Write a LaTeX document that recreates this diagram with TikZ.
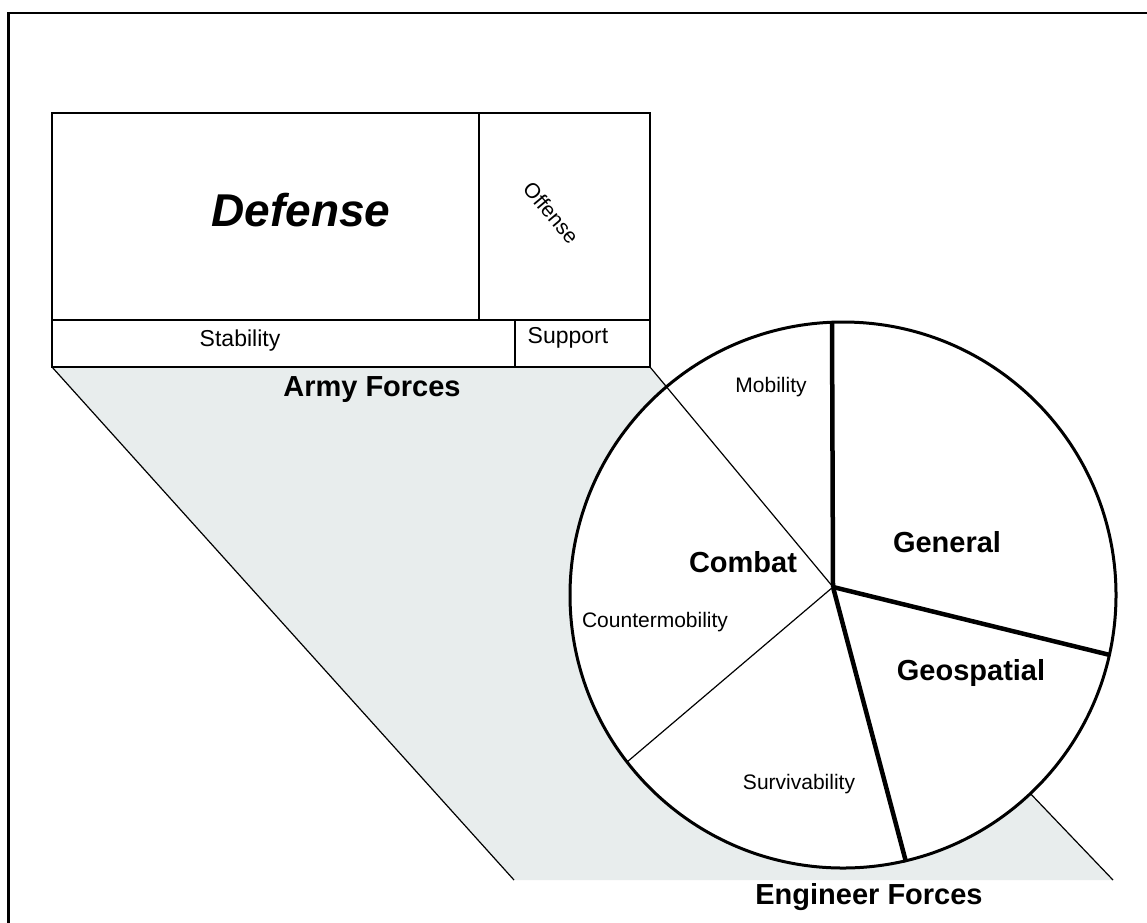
\documentclass[tikz,border=0pt]{standalone}
\usepackage{fontspec}
\setmainfont{Liberation Sans}
\definecolor{shadefill}{RGB}{232,237,237}
\begin{document}
\begin{tikzpicture}[x=1pt,y=-1pt,
  lbl/.style={inner sep=0pt, font=\fontsize{21}{21}\selectfont},
  lblbig/.style={inner sep=0pt, font=\fontsize{23}{23}\selectfont},
  blbl/.style={inner sep=0pt, font=\fontsize{29}{29}\selectfont\bfseries},
  thinline/.style={line width=1.2pt},
  boxline/.style={line width=2pt},
  thickspoke/.style={line width=4.5pt},
  rimline/.style={line width=3pt},
]
\useasboundingbox (0,0) rectangle (1147,922);
\fill[white] (0,0) rectangle (1147,922);
% key points
\coordinate (hub) at (833,587);
\coordinate (cc) at (843,595);
\coordinate (bxTL) at (52,113);
\coordinate (bxBR) at (650,367);
\coordinate (bxBL) at (52,367);
\coordinate (shL) at (514,880);
\coordinate (shR) at (1113,880);
% outer frame
\draw[line width=2.5pt] (8.5,940) -- (8.5,13) -- (1165,13);
% shaded band
\fill[shadefill] (bxBL) -- (bxBR) -- (hub) -- (shR) -- (shL) -- cycle;
\draw[thinline] (bxBL) -- (shL);
\draw[thinline] (hub) -- (shR);
% army box
\draw[boxline] (bxTL) rectangle (bxBR);
\draw[boxline] (52,320) -- (650,320);
\draw[boxline] (479,113) -- (479,320);
\draw[boxline] (515,320) -- (515,367);
% pie
\fill[white] (cc) circle (273pt);
\draw[thinline] (bxBR) -- (hub);
\draw[thinline] (hub) -- (627,762);
\draw[thickspoke] (hub) -- (832,322);
\draw[thickspoke] (hub) -- (1110,655);
\draw[thickspoke] (hub) -- (906,862);
\draw[rimline] (cc) circle (273pt);
% texts
\node[inner sep=0pt, font=\fontsize{46}{46}\selectfont\bfseries\itshape] (def) at (301,210) {Defense};
\node[lbl, rotate=-50] (off) at (551,213) {Offense};
\node[lblbig] (stab) at (240,341) {Stability};
\node[lblbig] (sup) at (568,338) {Support};
\node[blbl] (army) at (372,390) {Army Forces};
\node[blbl] (eng) at (869,897) {Engineer Forces};
\node[lbl] (mob) at (771,387) {Mobility};
\node[blbl] (comb) at (743,562) {Combat};
\node[blbl] (gen) at (947,542) {General};
\node[blbl] (geo) at (971,673) {Geospatial};
\node[lbl] (cmob) at (655,622) {Countermobility};
\node[lbl] (surv) at (799,784) {Survivability};
\end{tikzpicture}
\end{document}
